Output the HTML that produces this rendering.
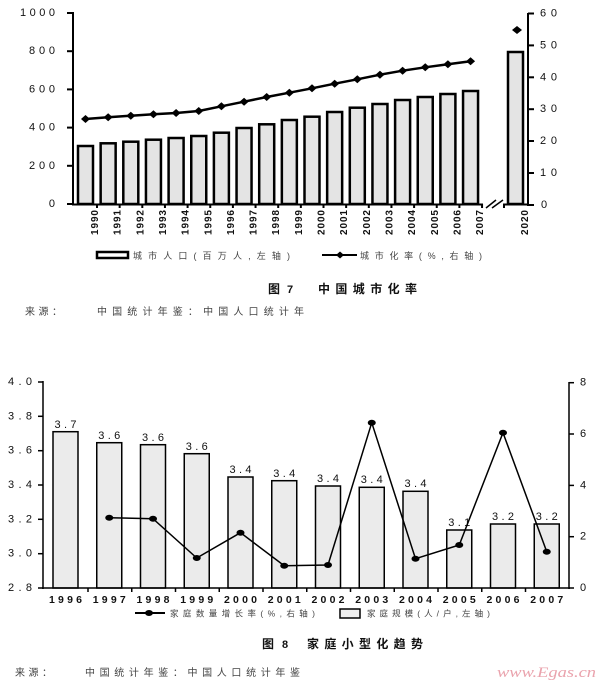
<!DOCTYPE html>
<html><head><meta charset="utf-8">
<style>
html,body{margin:0;padding:0;background:#fff;}
svg{display:block;}
</style></head>
<body>
<svg width="600" height="681" viewBox="0 0 600 681" xmlns="http://www.w3.org/2000/svg" font-family="'Liberation Sans','Noto Sans CJK SC',sans-serif" fill="#111">
<rect width="600" height="681" fill="#fff"/>

<!-- ============ TOP CHART ============ -->
<g stroke="#000" stroke-width="2.5" fill="#e4e4e4">
<rect x="78" y="146" width="15" height="58"/>
<rect x="100.65" y="143.3" width="15" height="60.7"/>
<rect x="123.3" y="141.7" width="15" height="62.3"/>
<rect x="145.95" y="139.7" width="15" height="64.3"/>
<rect x="168.6" y="138" width="15" height="66"/>
<rect x="191.25" y="136" width="15" height="68"/>
<rect x="213.9" y="132.7" width="15" height="71.3"/>
<rect x="236.55" y="128" width="15" height="76"/>
<rect x="259.2" y="124.3" width="15" height="79.7"/>
<rect x="281.85" y="120" width="15" height="84"/>
<rect x="304.5" y="116.7" width="15" height="87.3"/>
<rect x="327.15" y="112" width="15" height="92"/>
<rect x="349.8" y="107.7" width="15" height="96.3"/>
<rect x="372.45" y="104" width="15" height="100"/>
<rect x="395.1" y="100" width="15" height="104"/>
<rect x="417.75" y="97" width="15" height="107"/>
<rect x="440.4" y="94" width="15" height="110"/>
<rect x="463.05" y="91" width="15" height="113"/>
<rect x="508" y="52" width="15" height="152"/>
</g>

<!-- axes -->
<g stroke="#000" stroke-width="2" fill="none">
<line x1="73" y1="12" x2="73" y2="205"/>
<line x1="528" y1="13" x2="528" y2="206"/>
<line x1="72" y1="204.5" x2="483" y2="204.5"/>
<line x1="503" y1="204.5" x2="529" y2="204.5"/>
<line x1="486" y1="208" x2="496" y2="200" stroke-width="1.5"/>
<line x1="492" y1="208" x2="503" y2="200" stroke-width="1.5"/>
<line x1="67" y1="13" x2="73" y2="13"/>
<line x1="67" y1="51.2" x2="73" y2="51.2"/>
<line x1="67" y1="89.4" x2="73" y2="89.4"/>
<line x1="67" y1="127.6" x2="73" y2="127.6"/>
<line x1="67" y1="165.8" x2="73" y2="165.8"/>
<line x1="67" y1="204" x2="73" y2="204"/>
<line x1="528" y1="13.5" x2="534" y2="13.5"/>
<line x1="528" y1="45.4" x2="534" y2="45.4"/>
<line x1="528" y1="77.3" x2="534" y2="77.3"/>
<line x1="528" y1="109.2" x2="534" y2="109.2"/>
<line x1="528" y1="141" x2="534" y2="141"/>
<line x1="528" y1="173" x2="534" y2="173"/>
<line x1="528" y1="205" x2="534" y2="205"/>
</g>
<g stroke="#000" stroke-width="2">
<line x1="97" y1="204" x2="97" y2="208"/>
<line x1="119.65" y1="204" x2="119.65" y2="208"/>
<line x1="142.3" y1="204" x2="142.3" y2="208"/>
<line x1="164.95" y1="204" x2="164.95" y2="208"/>
<line x1="187.6" y1="204" x2="187.6" y2="208"/>
<line x1="210.25" y1="204" x2="210.25" y2="208"/>
<line x1="232.9" y1="204" x2="232.9" y2="208"/>
<line x1="255.55" y1="204" x2="255.55" y2="208"/>
<line x1="278.2" y1="204" x2="278.2" y2="208"/>
<line x1="300.85" y1="204" x2="300.85" y2="208"/>
<line x1="323.5" y1="204" x2="323.5" y2="208"/>
<line x1="346.15" y1="204" x2="346.15" y2="208"/>
<line x1="368.8" y1="204" x2="368.8" y2="208"/>
<line x1="391.45" y1="204" x2="391.45" y2="208"/>
<line x1="414.1" y1="204" x2="414.1" y2="208"/>
<line x1="436.75" y1="204" x2="436.75" y2="208"/>
<line x1="459.4" y1="204" x2="459.4" y2="208"/>
<line x1="482.05" y1="204" x2="482.05" y2="208"/>
<line x1="504" y1="204" x2="504" y2="208"/>
</g>

<!-- left labels -->
<g font-size="11" text-anchor="end" dominant-baseline="central">
<text x="55" y="13" textLength="35">1000</text>
<text x="55" y="51.2" textLength="26">800</text>
<text x="55" y="89.4" textLength="26">600</text>
<text x="55" y="127.6" textLength="26">400</text>
<text x="55" y="165.8" textLength="26">200</text>
<text x="55" y="204">0</text>
</g>
<g font-size="11" dominant-baseline="central">
<text x="540" y="13.5" textLength="17">60</text>
<text x="540" y="45.4" textLength="17">50</text>
<text x="540" y="77.3" textLength="17">40</text>
<text x="540" y="109.2" textLength="17">30</text>
<text x="540" y="141" textLength="17">20</text>
<text x="540" y="173" textLength="17">10</text>
<text x="541" y="205">0</text>
</g>

<!-- rotated x labels -->
<g font-size="10" font-weight="bold" text-anchor="middle" dominant-baseline="central">
<text transform="translate(95.5,222.5) rotate(-90)" textLength="25">1990</text>
<text transform="translate(118.15,222.5) rotate(-90)" textLength="25">1991</text>
<text transform="translate(140.8,222.5) rotate(-90)" textLength="25">1992</text>
<text transform="translate(163.45,222.5) rotate(-90)" textLength="25">1993</text>
<text transform="translate(186.1,222.5) rotate(-90)" textLength="25">1994</text>
<text transform="translate(208.75,222.5) rotate(-90)" textLength="25">1995</text>
<text transform="translate(231.4,222.5) rotate(-90)" textLength="25">1996</text>
<text transform="translate(254.05,222.5) rotate(-90)" textLength="25">1997</text>
<text transform="translate(276.7,222.5) rotate(-90)" textLength="25">1998</text>
<text transform="translate(299.35,222.5) rotate(-90)" textLength="25">1999</text>
<text transform="translate(322,222.5) rotate(-90)" textLength="25">2000</text>
<text transform="translate(344.65,222.5) rotate(-90)" textLength="25">2001</text>
<text transform="translate(367.3,222.5) rotate(-90)" textLength="25">2002</text>
<text transform="translate(389.95,222.5) rotate(-90)" textLength="25">2003</text>
<text transform="translate(412.6,222.5) rotate(-90)" textLength="25">2004</text>
<text transform="translate(435.25,222.5) rotate(-90)" textLength="25">2005</text>
<text transform="translate(457.9,222.5) rotate(-90)" textLength="25">2006</text>
<text transform="translate(480.55,222.5) rotate(-90)" textLength="25">2007</text>
<text transform="translate(525.5,222.5) rotate(-90)" textLength="25">2020</text>
</g>

<!-- urbanization line -->
<polyline fill="none" stroke="#000" stroke-width="2.5" points="85.5,119 108.15,117.3 130.8,115.7 153.45,114.3 176.1,113 198.75,111 221.4,106.3 244.05,101.7 266.7,97 289.35,92.7 312,88.3 334.65,83.7 357.3,79.3 379.95,74.7 402.6,70.7 425.25,67.3 447.9,64.3 470.55,61.3"/>
<g fill="#000">
<path d="M85.5,115 L90,119 L85.5,123 L81,119Z"/>
<path d="M108.15,113.3 L112.65,117.3 L108.15,121.3 L103.65,117.3Z"/>
<path d="M130.8,111.7 L135.3,115.7 L130.8,119.7 L126.3,115.7Z"/>
<path d="M153.45,110.3 L157.95,114.3 L153.45,118.3 L148.95,114.3Z"/>
<path d="M176.1,109 L180.6,113 L176.1,117 L171.6,113Z"/>
<path d="M198.75,107 L203.25,111 L198.75,115 L194.25,111Z"/>
<path d="M221.4,102.3 L225.9,106.3 L221.4,110.3 L216.9,106.3Z"/>
<path d="M244.05,97.7 L248.55,101.7 L244.05,105.7 L239.55,101.7Z"/>
<path d="M266.7,93 L271.2,97 L266.7,101 L262.2,97Z"/>
<path d="M289.35,88.7 L293.85,92.7 L289.35,96.7 L284.85,92.7Z"/>
<path d="M312,84.3 L316.5,88.3 L312,92.3 L307.5,88.3Z"/>
<path d="M334.65,79.7 L339.15,83.7 L334.65,87.7 L330.15,83.7Z"/>
<path d="M357.3,75.3 L361.8,79.3 L357.3,83.3 L352.8,79.3Z"/>
<path d="M379.95,70.7 L384.45,74.7 L379.95,78.7 L375.45,74.7Z"/>
<path d="M402.6,66.7 L407.1,70.7 L402.6,74.7 L398.1,70.7Z"/>
<path d="M425.25,63.3 L429.75,67.3 L425.25,71.3 L420.75,67.3Z"/>
<path d="M447.9,60.3 L452.4,64.3 L447.9,68.3 L443.4,64.3Z"/>
<path d="M470.55,57.3 L475.05,61.3 L470.55,65.3 L466.05,61.3Z"/>
<path d="M517,26 L522,30 L517,34 L512,30Z"/>
</g>

<!-- top legend -->
<rect x="97" y="252" width="31" height="6" fill="#fff" stroke="#000" stroke-width="2.5"/>
<text x="133" y="259" font-size="9" fill="#444" textLength="157" lengthAdjust="spacing">城市人口(百万人,左轴)</text>
<line x1="322" y1="255" x2="357" y2="255" stroke="#000" stroke-width="2"/>
<path d="M340,251.5 L344,255 L340,258.5 L336,255Z" fill="#000"/>
<text x="360" y="259" font-size="9" fill="#444" textLength="122" lengthAdjust="spacing">城市化率(%,右轴)</text>

<!-- top title -->
<text x="268" y="293" font-size="12" font-weight="bold">图</text>
<text x="287" y="293" font-size="11" font-weight="bold">7</text>
<text x="318" y="293" font-size="12" font-weight="bold" textLength="99" lengthAdjust="spacing">中国城市化率</text>

<!-- top source -->
<text x="25" y="315" font-size="10" fill="#444" textLength="37" lengthAdjust="spacing">来源：</text>
<text x="97" y="315" font-size="10" fill="#444" textLength="207" lengthAdjust="spacing">中国统计年鉴：中国人口统计年</text>

<!-- ============ BOTTOM CHART ============ -->
<g stroke="#000" stroke-width="1.5" fill="#ebebeb">
<rect x="53" y="431.7" width="25" height="156.3"/>
<rect x="96.75" y="442.7" width="25" height="145.3"/>
<rect x="140.5" y="444.7" width="25" height="143.3"/>
<rect x="184.25" y="453.7" width="25" height="134.3"/>
<rect x="228" y="477" width="25" height="111"/>
<rect x="271.75" y="480.7" width="25" height="107.3"/>
<rect x="315.5" y="486" width="25" height="102"/>
<rect x="359.25" y="487.3" width="25" height="100.7"/>
<rect x="403" y="491.3" width="25" height="96.7"/>
<rect x="446.75" y="530" width="25" height="58"/>
<rect x="490.5" y="524" width="25" height="64"/>
<rect x="534.25" y="524" width="25" height="64"/>
</g>

<g stroke="#000" stroke-width="1.5" fill="none">
<line x1="43" y1="381" x2="43" y2="589"/>
<line x1="569" y1="382" x2="569" y2="589"/>
<line x1="42" y1="588" x2="570" y2="588"/>
<line x1="38" y1="382" x2="43" y2="382"/>
<line x1="38" y1="416.3" x2="43" y2="416.3"/>
<line x1="38" y1="450.7" x2="43" y2="450.7"/>
<line x1="38" y1="485" x2="43" y2="485"/>
<line x1="38" y1="519.3" x2="43" y2="519.3"/>
<line x1="38" y1="553.7" x2="43" y2="553.7"/>
<line x1="38" y1="588" x2="43" y2="588"/>
<line x1="569" y1="382.7" x2="574" y2="382.7"/>
<line x1="569" y1="434" x2="574" y2="434"/>
<line x1="569" y1="485.4" x2="574" y2="485.4"/>
<line x1="569" y1="536.7" x2="574" y2="536.7"/>
<line x1="569" y1="588" x2="574" y2="588"/>
<line x1="88" y1="588" x2="88" y2="592"/>
<line x1="131.75" y1="588" x2="131.75" y2="592"/>
<line x1="175.5" y1="588" x2="175.5" y2="592"/>
<line x1="219.25" y1="588" x2="219.25" y2="592"/>
<line x1="263" y1="588" x2="263" y2="592"/>
<line x1="306.75" y1="588" x2="306.75" y2="592"/>
<line x1="350.5" y1="588" x2="350.5" y2="592"/>
<line x1="394.25" y1="588" x2="394.25" y2="592"/>
<line x1="438" y1="588" x2="438" y2="592"/>
<line x1="481.75" y1="588" x2="481.75" y2="592"/>
<line x1="525.5" y1="588" x2="525.5" y2="592"/>
</g>

<g font-size="11" dominant-baseline="central">
<text x="8" y="382" textLength="24" lengthAdjust="spacing">4.0</text>
<text x="8" y="416.3" textLength="24" lengthAdjust="spacing">3.8</text>
<text x="8" y="450.7" textLength="24" lengthAdjust="spacing">3.6</text>
<text x="8" y="485" textLength="24" lengthAdjust="spacing">3.4</text>
<text x="8" y="519.3" textLength="24" lengthAdjust="spacing">3.2</text>
<text x="8" y="553.7" textLength="24" lengthAdjust="spacing">3.0</text>
<text x="8" y="588" textLength="24" lengthAdjust="spacing">2.8</text>
<text x="580" y="382.7">8</text>
<text x="580" y="434">6</text>
<text x="580" y="485.4">4</text>
<text x="580" y="536.7">2</text>
<text x="580" y="588">0</text>
</g>

<!-- bar value labels -->
<g font-size="11" text-anchor="middle" dominant-baseline="central">
<text x="65.5" y="425" textLength="22" lengthAdjust="spacing">3.7</text>
<text x="109.25" y="436" textLength="22" lengthAdjust="spacing">3.6</text>
<text x="153" y="438" textLength="22" lengthAdjust="spacing">3.6</text>
<text x="196.75" y="447" textLength="22" lengthAdjust="spacing">3.6</text>
<text x="240.5" y="470" textLength="22" lengthAdjust="spacing">3.4</text>
<text x="284.25" y="474" textLength="22" lengthAdjust="spacing">3.4</text>
<text x="328" y="479" textLength="22" lengthAdjust="spacing">3.4</text>
<text x="371.75" y="480" textLength="22" lengthAdjust="spacing">3.4</text>
<text x="415.5" y="484" textLength="22" lengthAdjust="spacing">3.4</text>
<text x="459.25" y="523" textLength="22" lengthAdjust="spacing">3.1</text>
<text x="503" y="517" textLength="22" lengthAdjust="spacing">3.2</text>
<text x="546.75" y="517" textLength="22" lengthAdjust="spacing">3.2</text>
</g>

<!-- year labels -->
<g font-size="10.5" font-weight="bold" text-anchor="middle" dominant-baseline="central">
<text x="65.5" y="600" textLength="33" lengthAdjust="spacing">1996</text>
<text x="109.25" y="600" textLength="33" lengthAdjust="spacing">1997</text>
<text x="153" y="600" textLength="33" lengthAdjust="spacing">1998</text>
<text x="196.75" y="600" textLength="33" lengthAdjust="spacing">1999</text>
<text x="240.5" y="600" textLength="33" lengthAdjust="spacing">2000</text>
<text x="284.25" y="600" textLength="33" lengthAdjust="spacing">2001</text>
<text x="328" y="600" textLength="33" lengthAdjust="spacing">2002</text>
<text x="371.75" y="600" textLength="33" lengthAdjust="spacing">2003</text>
<text x="415.5" y="600" textLength="33" lengthAdjust="spacing">2004</text>
<text x="459.25" y="600" textLength="33" lengthAdjust="spacing">2005</text>
<text x="503" y="600" textLength="33" lengthAdjust="spacing">2006</text>
<text x="546.75" y="600" textLength="33" lengthAdjust="spacing">2007</text>
</g>

<!-- household growth line -->
<polyline fill="none" stroke="#000" stroke-width="1.5" points="109.25,517.7 153,518.7 196.75,558 240.5,532.7 284.25,565.7 328,565 371.75,422.7 415.5,558.7 459.25,545 503,432.7 546.75,551.7"/>
<g fill="#000">
<ellipse cx="109.25" cy="517.7" rx="4" ry="3"/>
<ellipse cx="153" cy="518.7" rx="4" ry="3"/>
<ellipse cx="196.75" cy="558" rx="4" ry="3"/>
<ellipse cx="240.5" cy="532.7" rx="4" ry="3"/>
<ellipse cx="284.25" cy="565.7" rx="4" ry="3"/>
<ellipse cx="328" cy="565" rx="4" ry="3"/>
<ellipse cx="371.75" cy="422.7" rx="4" ry="3"/>
<ellipse cx="415.5" cy="558.7" rx="4" ry="3"/>
<ellipse cx="459.25" cy="545" rx="4" ry="3"/>
<ellipse cx="503" cy="432.7" rx="4" ry="3"/>
<ellipse cx="546.75" cy="551.7" rx="4" ry="3"/>
</g>

<!-- bottom legend -->
<line x1="135" y1="613" x2="165" y2="613" stroke="#000" stroke-width="2"/>
<ellipse cx="149" cy="613" rx="4" ry="3" fill="#000"/>
<text x="170" y="616.5" font-size="8.5" fill="#444" textLength="145" lengthAdjust="spacing">家庭数量增长率(%,右轴)</text>
<rect x="340" y="609" width="20" height="9" fill="#eee" stroke="#000" stroke-width="1.5"/>
<text x="367" y="616.5" font-size="8.5" fill="#444" textLength="123" lengthAdjust="spacing">家庭规模(人/户,左轴)</text>

<!-- bottom title -->
<text x="262" y="648" font-size="12" font-weight="bold">图</text>
<text x="282" y="648" font-size="11" font-weight="bold">8</text>
<text x="307" y="648" font-size="12" font-weight="bold" textLength="116" lengthAdjust="spacing">家庭小型化趋势</text>

<!-- bottom source -->
<text x="15" y="676" font-size="10" fill="#444" textLength="37" lengthAdjust="spacing">来源：</text>
<text x="85" y="676" font-size="10" fill="#444" textLength="215" lengthAdjust="spacing">中国统计年鉴：中国人口统计年鉴</text>

<!-- watermark -->
<text x="497" y="677" font-family="'Liberation Serif',serif" font-style="italic" font-size="15" fill="#eaa3ad" textLength="99" lengthAdjust="spacingAndGlyphs">www.Egas.cn</text>
</svg>
</body></html>
